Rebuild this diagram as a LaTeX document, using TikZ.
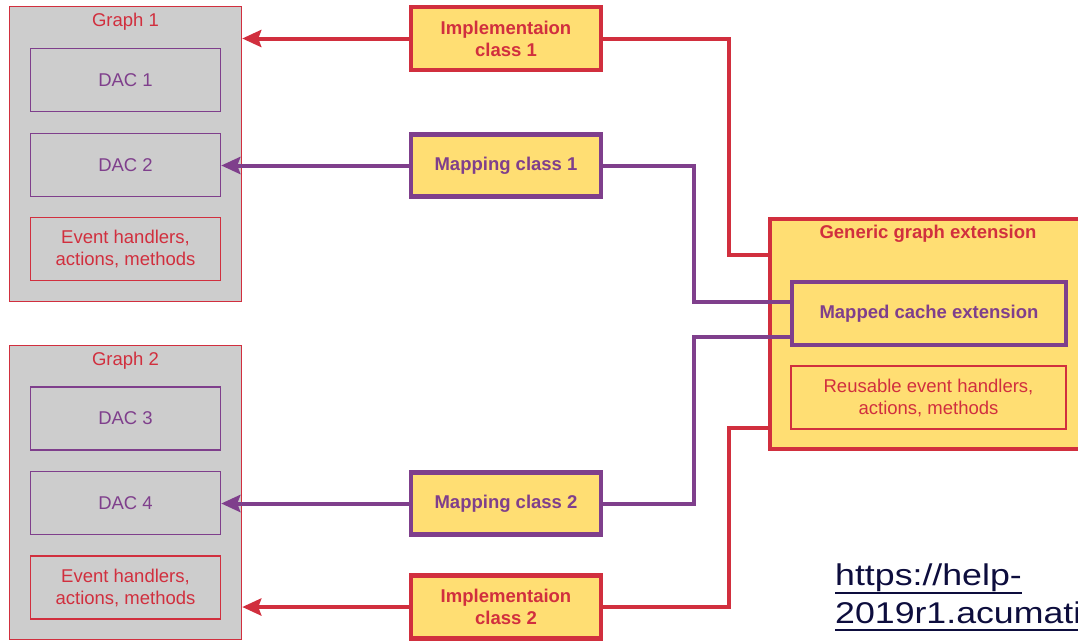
\documentclass[tikz,border=0pt]{standalone}
\usepackage{fontspec}
\setmainfont{Liberation Sans}
\usetikzlibrary{arrows.meta}
\definecolor{cred}{HTML}{D12F3E}
\definecolor{cpurple}{HTML}{7F3F8C}
\definecolor{cyellow}{HTML}{FFDE73}
\definecolor{cgrey}{HTML}{CDCDCD}
\definecolor{curl}{HTML}{0D0D3D}
\begin{document}
\begin{tikzpicture}[x=1pt,y=-1pt,
  txt/.style={font=\fontsize{18.5}{22}\selectfont, align=center},
  btxt/.style={font=\fontsize{18.5}{22}\selectfont\bfseries, align=center},
  graphbox/.style={draw=cred, line width=1.5pt, fill=cgrey, inner sep=0pt},
  dacbox/.style={draw=cpurple, line width=1.5pt, inner sep=0pt, minimum width=190pt, minimum height=63pt, txt, text=cpurple},
  ehbox/.style={draw=cred, line width=1.5pt, inner sep=0pt, minimum width=190pt, minimum height=63pt, txt, text=cred},
  implbox/.style={draw=cred, line width=4.5pt, fill=cyellow, inner sep=0pt, minimum width=190pt, minimum height=63pt, btxt, text=cred},
  mapbox/.style={draw=cpurple, line width=4.5pt, fill=cyellow, inner sep=0pt, minimum width=190pt, minimum height=62pt, btxt, text=cpurple},
  redline/.style={draw=cred, line width=4pt},
  purpline/.style={draw=cpurple, line width=4pt},
  tip/.style={-{Stealth[length=19pt,width=17pt,inset=3pt]}}
]
\useasboundingbox (0,0) rectangle (1078,641);

% Graph 1
\node[graphbox, minimum width=232pt, minimum height=295pt] (g1) at (125.5,154) {};
\node[txt, text=cred] (g1t) at (125.5,21.5) {Graph 1};
\node[dacbox] (dac1) at (125.5,80) {DAC 1};
\node[dacbox] (dac2) at (125.5,165) {DAC 2};
\node[ehbox] (eh1) at (125.5,249) {Event handlers,\\actions, methods};

% Graph 2
\node[graphbox, minimum width=232pt, minimum height=294pt] (g2) at (125.5,492.5) {};
\node[txt, text=cred] (g2t) at (125.5,360.5) {Graph 2};
\node[dacbox] (dac3) at (125.5,418.5) {DAC 3};
\node[dacbox] (dac4) at (125.5,503) {DAC 4};
\node[ehbox] (eh2) at (125.5,587.5) {Event handlers,\\actions, methods};

% Generic graph extension
\node[draw=cred, line width=4.5pt, fill=cyellow, inner sep=0pt, minimum width=320pt, minimum height=230pt] (gen) at (930,334) {};
\node[btxt, text=cred] (gent) at (928,234) {Generic graph extension};
\node[draw=cpurple, line width=4.5pt, inner sep=0pt, minimum width=274pt, minimum height=63pt, btxt, text=cpurple] (mce) at (929,313.5) {\raisebox{3pt}{Mapped cache extension}};
\node[draw=cred, line width=1.5pt, inner sep=0pt, minimum width=275pt, minimum height=63pt, txt, text=cred] (reu) at (928.5,397.5) {Reusable event handlers,\\actions, methods};

% Middle classes
\node[implbox] (impl1) at (506,38.5) {Implementaion\\class 1};
\node[mapbox] (map1) at (506,165.5) {Mapping class 1};
\node[mapbox] (map2) at (506,503.5) {Mapping class 2};
\node[implbox] (impl2) at (506,607) {Implementaion\\class 2};

% connectors
\coordinate (c1) at (728.5,38.5);
\coordinate (c2) at (728.5,255);
\draw[redline] (impl1.east) -- (c1) -- (c2) -- (c2 -| gen.west);
\coordinate (c3) at (694,165.5);
\coordinate (c4) at (694,302);
\draw[purpline] (map1.east) -- (c3) -- (c4) -- (c4 -| mce.west);
\coordinate (c5) at (694,337);
\coordinate (c6) at (694,503.5);
\draw[purpline] (c5 -| mce.west) -- (c5) -- (c6) -- (map2.east);
\coordinate (c7) at (728.5,607);
\coordinate (c8) at (728.5,428);
\draw[redline] (impl2.east) -- (c7) -- (c8) -- (c8 -| gen.west);

% arrows into graphs
\draw[redline, tip] (impl1.west) -- (impl1.west -| g1.east);
\draw[purpline, tip] (map1.west) -- (map1.west -| dac2.east);
\draw[purpline, tip] (map2.west) -- (map2.west -| dac4.east);
\draw[redline, tip] (impl2.west) -- (impl2.west -| g2.east);

% URL
\node[anchor=base west, inner sep=0pt, text=curl, font=\fontsize{30}{36}\selectfont] (url1) at (835,585) {\scalebox{1.19}[1]{https://help-}};
\node[anchor=base west, inner sep=0pt, text=curl, font=\fontsize{30}{36}\selectfont] (url2) at (835,623) {\scalebox{1.19}[1]{2019r1.acumati}};
\draw[curl, line width=2pt] (url1.base west) ++(0,8) -- ++(187,0);
\draw[curl, line width=2pt] (url2.base west) ++(0,7) -- ++(250,0);
\end{tikzpicture}
\end{document}
